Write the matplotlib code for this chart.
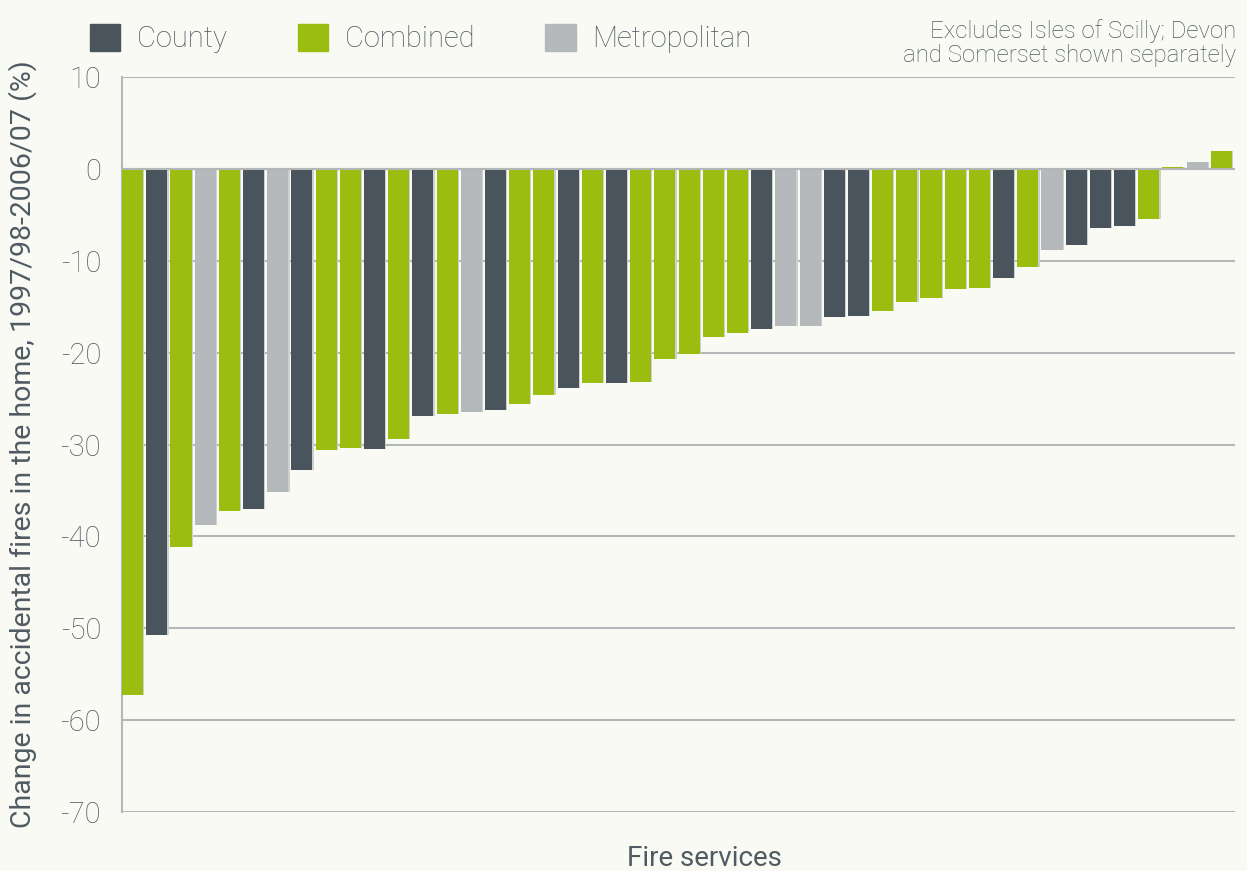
import matplotlib.pyplot as plt
from matplotlib.patches import Patch

# fire service types: C = county, B = combined, M = metropolitan
types = ['B','C','B','M','B','C','M','C','B','B','C','B','C','B','M','C',
         'B','B','C','B','C','B','B','B','B','B','C','M','M','C','C','B',
         'B','B','B','B','C','B','M','C','C','C','B','B','M','B']
change = [-57.3,-50.7,-41.2,-38.8,-37.2,-37.0,-35.2,-32.8,-30.6,-30.4,-30.5,
          -29.4,-26.9,-26.7,-26.5,-26.2,-25.6,-24.6,-23.9,-23.3,-23.3,-23.2,
          -20.7,-20.2,-18.3,-17.9,-17.4,-17.1,-17.1,-16.1,-16.0,-15.5,-14.5,
          -14.1,-13.1,-13.0,-11.9,-10.7,-8.8,-8.3,-6.4,-6.2,-5.5,0.2,0.8,1.9]
yticks = [10,0,-10,-20,-30,-40,-50,-60,-70]

colors = {'C':'#4a545d','B':'#9bbd0f','M':'#b5b9bb'}
names = {'C':'County','B':'Combined','M':'Metropolitan'}
bg = '#f9faf3'
txt = '#4f5a63'
grid = '#b3b7b8'

plt.rcParams['font.family'] = ['Roboto', 'DejaVu Sans']
plt.rcParams['font.weight'] = 'light'

fig = plt.figure(figsize=(12.47,8.71), dpi=100, facecolor=bg)
ax = fig.add_axes([0.0978, 0.0677, 0.8925, 0.8439], facecolor=bg)

x = list(range(len(change)))
ax.bar([i+0.05 for i in x], change, width=0.87, color='#cdd0cf', zorder=2)
ax.bar(x, change, width=0.87, color=[colors[t] for t in types], zorder=3)

ax.set_ylim(-70, 10)
ax.set_xlim(-0.44, 45.56)
ax.set_yticks(yticks)
ax.set_yticklabels([str(v) for v in yticks], fontsize=21, color=txt)
ax.tick_params(axis='y', length=0, pad=15)
ax.set_xticks([])
for v in yticks:
    ax.axhline(v, color=grid, lw=1.5, zorder=1)
ax.axhline(0, color=grid, lw=1.5, zorder=4)
for s in ['top','right','bottom']:
    ax.spines[s].set_visible(False)
ax.spines['left'].set_color(grid)
ax.spines['left'].set_linewidth(1.5)

ax.set_ylabel('Change in accidental fires in the home, 1997/98-2006/07 (%)',
              fontsize=20.5, color=txt)
ax.yaxis.set_label_coords(-0.076, 0.5)
ax.set_xlabel('Fire services', fontsize=20, color=txt)
ax.xaxis.set_label_coords(0.523, -0.045)

handles = [Patch(color=colors[k], label=names[k]) for k in ['C','B','M']]
leg = fig.legend(handles=handles, loc='upper left', bbox_to_anchor=(0.051, 1.003),
                 ncol=3, frameon=False, fontsize=21, handlelength=1.05,
                 handleheight=1.05, handletextpad=0.55, columnspacing=2.45)
for t in leg.get_texts():
    t.set_color(txt)

fig.text(0.991, 0.978, 'Excludes Isles of Scilly; Devon\nand Somerset shown separately',
         ha='right', va='top', fontsize=17.3, color=txt, linespacing=1.05)

fig.savefig('out.png', dpi=100, facecolor=bg)
